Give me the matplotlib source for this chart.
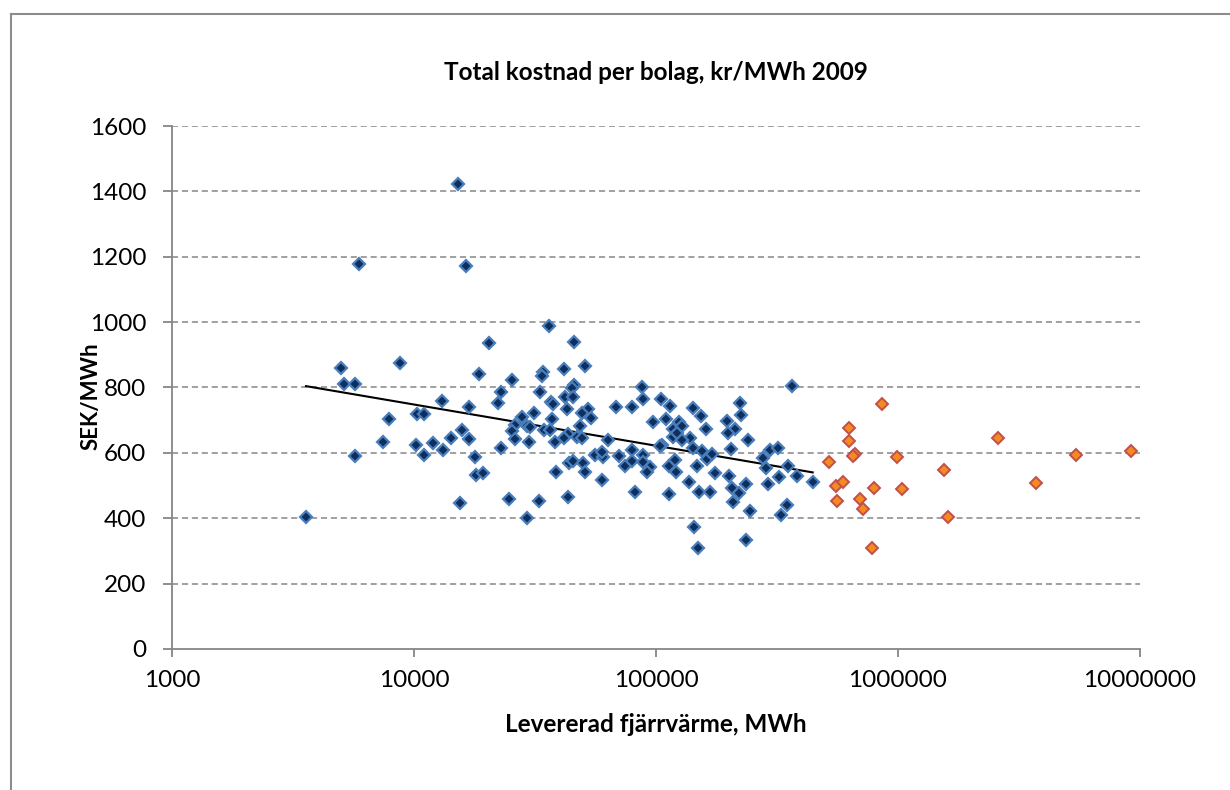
import matplotlib
matplotlib.use('Agg')
import matplotlib.pyplot as plt
from matplotlib.lines import Line2D
from matplotlib.ticker import FixedLocator, NullLocator
import numpy as np

plt.rcParams['font.family'] = ['Lato', 'DejaVu Sans']

# levererad fjärrvärme (MWh) och total kostnad (kr/MWh), mindre bolag
small_mwh = [3580, 4990, 5150, 5710, 5700, 5930, 7460, 7910, 8750, 10260,
             10190, 10990, 10990, 12020, 13000, 13210, 14190, 15170, 15490, 15780,
             16370, 16870, 16870, 17910, 18030, 19230, 18580, 20420,
             36140, 45940, 34200, 33700, 41780, 50890, 25410, 22810, 22170, 33190,
             45800, 44850, 42070, 45290, 36730, 37420, 42760, 52240, 49330, 53830,
             68340, 79800, 87300, 88700, 104900, 114300, 27860, 31410, 37070, 26120,
             29380, 30130, 25350, 34510, 36470, 48530, 43450, 47000, 49330, 26120,
             29920, 38280, 41780, 63100, 97500, 109600, 118000, 117300, 105700, 121900,
             22910, 38650, 43850, 45290, 49770, 50890, 55980, 60570, 59680, 70470,
             74450, 79800, 79800, 88700, 88700, 94440, 91560, 113500, 119900, 121100,
             60000, 81800, 113200, 24600, 32960, 43450, 29230,
             364000, 142600, 153000, 222300, 224400, 124500, 127700, 195900, 211900, 199000,
             160300, 138000, 127700, 104000, 239300, 142600, 154500, 162200, 170000, 204000,
             148300, 175400, 200900, 277300, 295700, 318300, 285100, 350000, 322300, 381200,
             444300, 137300, 291000, 235500, 205600, 220800, 207500, 151000, 167100, 346700,
             327300, 244300, 143900, 235500, 148600]
small_cost = [405, 859, 812, 810, 590, 1177, 632, 705, 875, 719,
              624, 719, 593, 629, 760, 608, 647, 1422, 446, 670,
              1173, 741, 642, 588, 532, 539, 842, 936,
              988, 938, 848, 835, 858, 865, 823, 785, 753, 785,
              809, 797, 772, 772, 756, 749, 733, 733, 721, 707,
              741, 741, 800, 764, 765, 744, 710, 723, 703, 685,
              683, 678, 667, 670, 670, 682, 657, 649, 644, 641,
              634, 634, 644, 639, 693, 703, 672, 649, 624, 660,
              614, 540, 570, 576, 570, 542, 595, 588, 603, 590,
              561, 608, 576, 593, 573, 557, 540, 561, 578, 542,
              516, 479, 474, 458, 453, 464, 400,
              805, 736, 713, 753, 716, 695, 682, 697, 673, 660,
              673, 647, 639, 621, 639, 616, 606, 581, 598, 611,
              561, 539, 530, 585, 608, 614, 554, 560, 527, 529,
              512, 512, 504, 505, 491, 478, 450, 479, 479, 440,
              410, 422, 374, 333, 308]

# större bolag
large_mwh = [861000, 628000, 630000, 664000, 654000, 988000, 520000, 2582000, 5450000, 9190000,
             1549000, 554000, 591000, 796000, 1035000, 3707000, 558000, 697000, 714000, 1614000,
             783000]
large_cost = [751, 675, 637, 596, 590, 586, 573, 644, 592, 605,
              547, 498, 510, 494, 490, 509, 454, 458, 429, 405,
              308]

x_ticks = [1000, 10000, 100000, 1000000, 10000000]
y_ticks = [0, 200, 400, 600, 800, 1000, 1200, 1400, 1600]

fs = 17.5

fig = plt.figure(figsize=(12.3, 7.9), dpi=100)
ax = fig.add_axes([0.1398, 0.1785, 0.7870, 0.662])

ax.set_xscale('log')
ax.set_xlim(1000, 10000000)
ax.set_ylim(0, 1600)

for y in y_ticks[1:]:
    ax.axhline(y, color='#868686', lw=1.1, ls=(0, (4, 2.5)), zorder=1)

# logaritmisk trendlinje för de mindre bolagen
lx = np.log(small_mwh)
k, m = np.polyfit(lx, small_cost, 1)
xt = np.array([min(small_mwh), max(small_mwh)])
ax.plot(xt, k * np.log(xt) + m, color='black', lw=1.5, zorder=2)

ax.plot(small_mwh, small_cost, ls='none', marker='D', ms=6.2,
        mfc='#0d2f5f', mec='#4a7ebb', mew=1.6, zorder=3)
ax.plot(large_mwh, large_cost, ls='none', marker='D', ms=6.2,
        mfc='#f68a1e', mec='#c0504d', mew=1.4, zorder=3)

ax.xaxis.set_major_locator(FixedLocator(x_ticks))
ax.xaxis.set_minor_locator(NullLocator())
ax.set_xticklabels([str(v) for v in x_ticks])
ax.yaxis.set_major_locator(FixedLocator(y_ticks))

for s in ['top', 'right']:
    ax.spines[s].set_visible(False)
for s in ['left', 'bottom']:
    ax.spines[s].set_color('#868686')
    ax.spines[s].set_linewidth(1.3)
ax.tick_params(axis='x', direction='out', length=6, width=1.3, color='#868686',
               labelsize=fs, pad=9)
ax.tick_params(axis='y', direction='out', length=6.5, width=1.3, color='#868686',
               labelsize=fs, pad=12)

ax.set_title('Total kostnad per bolag, kr/MWh 2009', fontsize=fs, fontweight='bold',
             y=1 + (126 - 72) / 523, pad=0, va='center')
ax.set_xlabel('Levererad fjärrvärme, MWh', fontsize=fs, fontweight='bold', va='center')
ax.xaxis.set_label_coords(0.5, -(725 - 649) / 523)
ax.set_ylabel('SEK/MWh', fontsize=16, fontweight='bold', va='center')
ax.yaxis.set_label_coords(-(172 - 91) / 968, (649 - 396) / 523)

# ram runt diagrammet (syns upptill och till vänster)
fig.add_artist(Line2D([11 / 1230, 11 / 1230], [0, 1 - 14 / 790], color='#8c8c8c', lw=1.5))
fig.add_artist(Line2D([11 / 1230, 1], [1 - 14 / 790, 1 - 14 / 790], color='#8c8c8c', lw=1.5))

fig.savefig('out.png', dpi=100, facecolor='white')
